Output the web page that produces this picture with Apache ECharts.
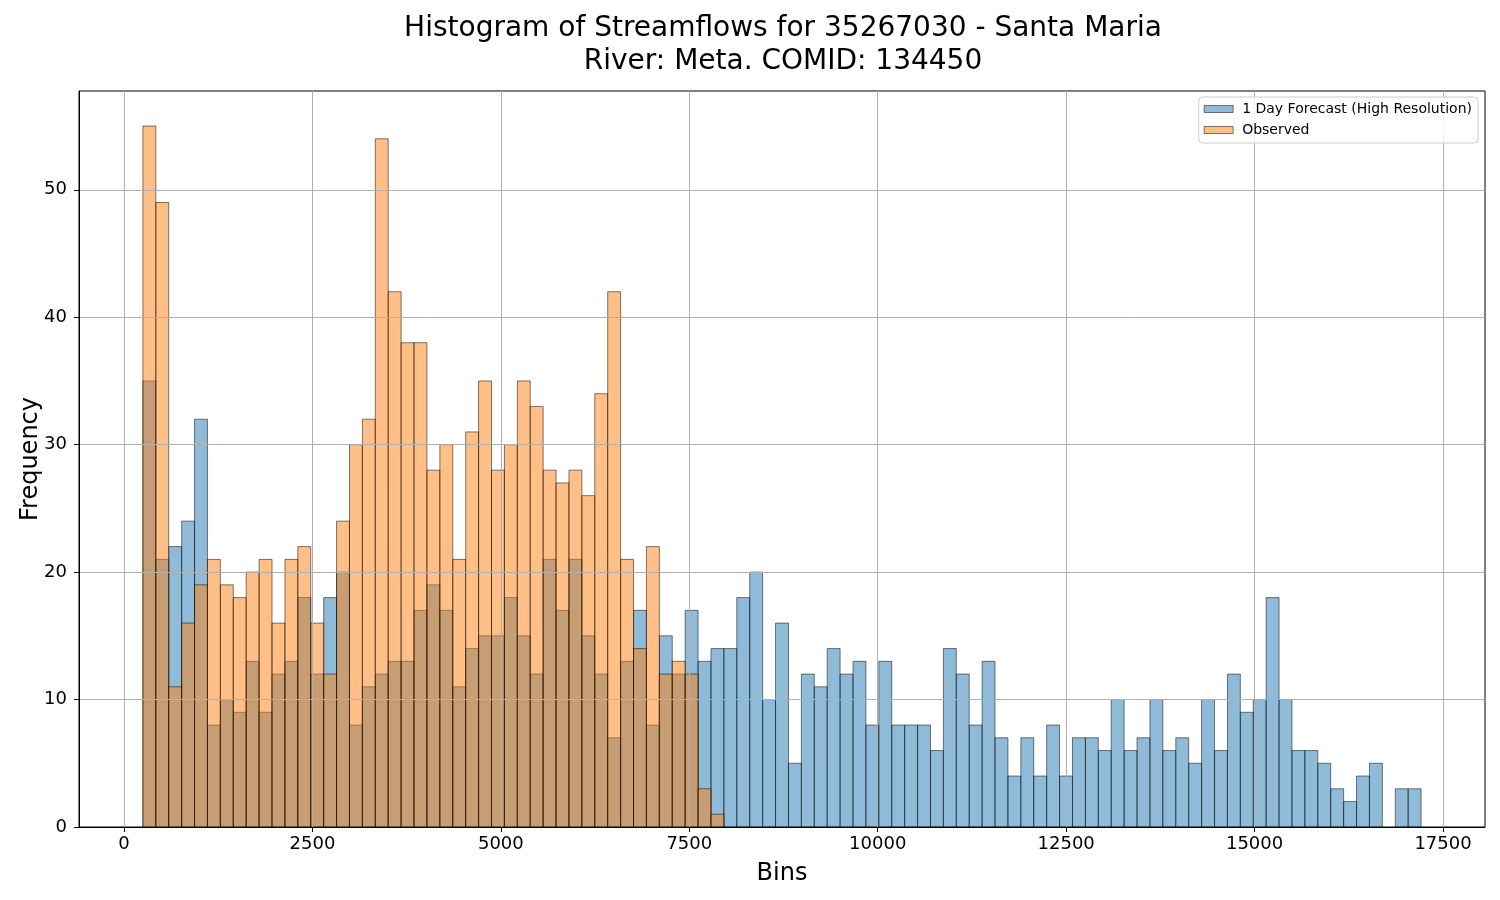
<!DOCTYPE html>
<html>
<head>
<meta charset="utf-8">
<script src="https://cdn.jsdelivr.net/npm/echarts@6/dist/echarts.min.js"></script>
<style>
html, body { margin: 0; padding: 0; background: #ffffff; }
#chart { width: 1500px; height: 900px; }
</style>
</head>
<body>
<div id="chart"></div>
<script>
// Histogram bin range (shared by both series), equal-width bins
const binLow = 251;
const binHigh = 17209;

// Counts per bin: 1 Day Forecast (High Resolution)
const forecastCounts = [
  35, 21, 22, 24, 32, 8, 10, 9, 13, 9,
  12, 13, 18, 12, 18, 20, 8, 11, 12, 13,
  13, 17, 19, 17, 11, 14, 15, 15, 18, 15,
  12, 21, 17, 21, 15, 12, 7, 13, 17, 8,
  15, 12, 17, 13, 14, 14, 18, 20, 10, 16,
  5, 12, 11, 14, 12, 13, 8, 13, 8, 8,
  8, 6, 14, 12, 8, 13, 7, 4, 7, 4,
  8, 4, 7, 7, 6, 10, 6, 7, 10, 6,
  7, 5, 10, 6, 12, 9, 10, 18, 10, 6,
  6, 5, 3, 2, 4, 5, 0, 3, 3
];

// Counts per bin: Observed (remaining bins are empty)
const observedCounts = [
  55, 49, 11, 16, 19, 21, 19, 18, 20, 21,
  16, 21, 22, 16, 12, 24, 30, 32, 54, 42,
  38, 38, 28, 30, 21, 31, 35, 28, 30, 35,
  33, 28, 27, 28, 26, 34, 42, 21, 14, 22,
  12, 13, 12, 3, 1
];

const seriesNames = ['1 Day Forecast (High Resolution)', 'Observed'];
const xTickValues = [0, 2500, 5000, 7500, 10000, 12500, 15000, 17500];
const yTickValues = [0, 10, 20, 30, 40, 50];

const binCount = forecastCounts.length;
const binWidth = (binHigh - binLow) / binCount;
function toBins(counts) {
  return counts.map(function (c, i) {
    return [binLow + i * binWidth, binLow + (i + 1) * binWidth, c];
  });
}

const dataXMin = binLow - 0.05 * (binHigh - binLow);
const dataXMax = binHigh + 0.05 * (binHigh - binLow);
const dataYMax = 1.05 * Math.max.apply(null, forecastCounts.concat(observedCounts));

const FONT = 'DejaVu Sans';
const blueFill = 'rgba(31,119,180,0.5)';
const orangeFill = 'rgba(255,127,14,0.5)';
const edge = 'rgba(0,0,0,0.5)';

function makeRender(fill) {
  return function (params, api) {
    const x0 = api.value(0), x1 = api.value(1), y = api.value(2);
    if (!(y > 0)) { return null; }
    const pTop = api.coord([x0, y]);
    const pBot = api.coord([x1, 0]);
    return {
      type: 'rect',
      shape: { x: pTop[0], y: pTop[1], width: pBot[0] - pTop[0], height: pBot[1] - pTop[1] },
      style: { fill: fill, stroke: edge, lineWidth: 1 }
    };
  };
}

const chart = echarts.init(document.getElementById('chart'), null, { renderer: 'canvas' });
chart.setOption({
  animation: false,
  backgroundColor: '#ffffff',
  textStyle: { fontFamily: FONT },
  title: {
    text: 'Histogram of Streamflows for 35267030 - Santa Maria\nRiver: Meta. COMID: 134450',
    left: 778,
    top: 7,
    textAlign: 'center',
    textStyle: { fontFamily: FONT, fontSize: 28, fontWeight: 'normal', color: '#000', lineHeight: 33 }
  },
  legend: {
    orient: 'vertical',
    right: 22,
    top: 97,
    padding: [5, 6, 6, 5],
    itemGap: 7,
    itemWidth: 29,
    itemHeight: 7,
    borderColor: '#cccccc',
    borderWidth: 1,
    borderRadius: 4,
    backgroundColor: 'rgba(255,255,255,0.8)',
    textStyle: { fontFamily: FONT, fontSize: 14, color: '#000', padding: [0, 0, 0, 4] },
    data: [
      { name: seriesNames[0], icon: 'rect', itemStyle: { color: blueFill, borderColor: edge, borderWidth: 1 } },
      { name: seriesNames[1], icon: 'rect', itemStyle: { color: orangeFill, borderColor: edge, borderWidth: 1 } }
    ]
  },
  grid: {
    left: 79, right: 15, top: 91, bottom: 73,
    show: true, borderColor: '#000', borderWidth: 1,
    containLabel: false, outerBoundsMode: 'none'
  },
  xAxis: {
    type: 'value',
    min: dataXMin,
    max: dataXMax,
    z: 3,
    name: 'Bins',
    nameLocation: 'middle',
    nameGap: 35,
    nameMoveOverlap: false,
    nameTextStyle: { fontFamily: FONT, fontSize: 24, color: '#000' },
    axisLine: { show: true, onZero: false, lineStyle: { color: '#000', width: 1 } },
    axisTick: { show: true, inside: false, length: 5, lineStyle: { color: '#000' }, customValues: xTickValues },
    axisLabel: {
      show: true, margin: 8, fontFamily: FONT, fontSize: 18, color: '#000',
      customValues: xTickValues,
      formatter: function (v) { return String(v); }
    },
    splitLine: { show: true, lineStyle: { color: '#b0b0b0', width: 1 } }
  },
  yAxis: {
    type: 'value',
    min: 0,
    max: dataYMax,
    z: 3,
    name: 'Frequency',
    nameLocation: 'middle',
    nameGap: 36,
    nameMoveOverlap: false,
    nameTextStyle: { fontFamily: FONT, fontSize: 24, color: '#000' },
    axisLine: { show: true, onZero: false, lineStyle: { color: '#000', width: 1 } },
    axisTick: { show: true, inside: false, length: 5, lineStyle: { color: '#000' }, customValues: yTickValues },
    axisLabel: {
      show: true, margin: 12, fontFamily: FONT, fontSize: 18, color: '#000',
      customValues: yTickValues,
      formatter: function (v) { return String(v); }
    },
    splitLine: { show: true, lineStyle: { color: '#b0b0b0', width: 1 } }
  },
  series: [
    {
      name: seriesNames[0],
      type: 'custom',
      renderItem: makeRender(blueFill),
      encode: { x: [0, 1], y: 2 },
      itemStyle: { color: blueFill, borderColor: edge, borderWidth: 1 },
      data: toBins(forecastCounts),
      z: 2
    },
    {
      name: seriesNames[1],
      type: 'custom',
      renderItem: makeRender(orangeFill),
      encode: { x: [0, 1], y: 2 },
      itemStyle: { color: orangeFill, borderColor: edge, borderWidth: 1 },
      data: toBins(observedCounts),
      z: 2
    }
  ]
});
</script>
</body>
</html>
